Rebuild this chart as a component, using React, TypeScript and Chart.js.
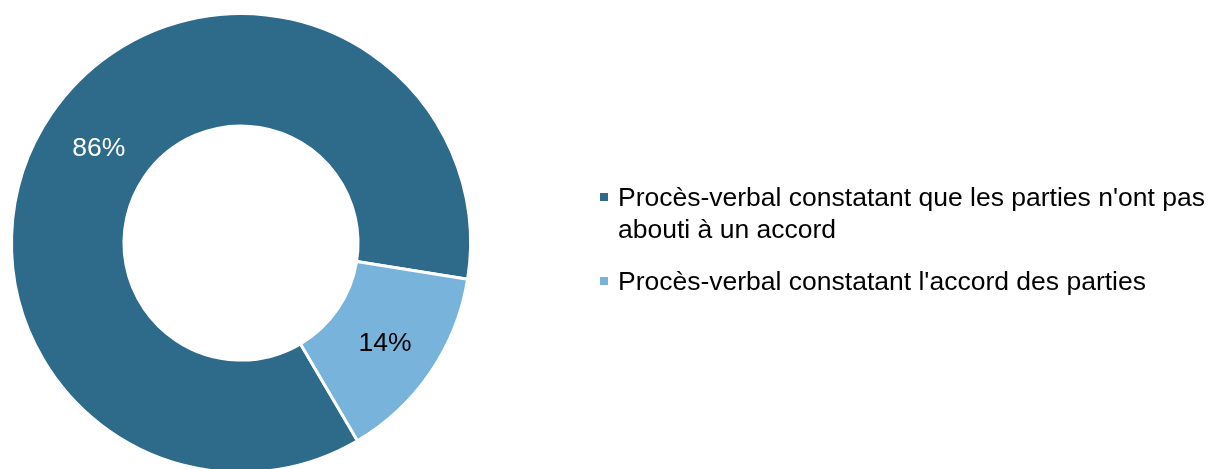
import React, { useEffect, useRef } from "react";
import { Chart, registerables } from "chart.js";

Chart.register(...registerables);

const categories = [
  "Procès-verbal constatant que les parties n'ont pas abouti à un accord",
  "Procès-verbal constatant l'accord des parties",
];
const legendLines = [
  ["Procès-verbal constatant que les parties n'ont pas", "abouti à un accord"],
  ["Procès-verbal constatant l'accord des parties"],
];
const values = [86, 14];
const valueLabels = ["86%", "14%"];
const colors = ["#2E6B8A", "#77B3DA"];
const labelColors = ["#FFFFFF", "#000000"];

const FONT = "'Liberation Sans', Arial, Helvetica, sans-serif";

const labelPlugin = {
  id: "sliceLabels",
  afterDatasetsDraw(chart: any) {
    const ctx = chart.ctx;
    const meta = chart.getDatasetMeta(0);
    ctx.save();
    ctx.font = `26.5px ${FONT}`;
    ctx.textAlign = "center";
    ctx.textBaseline = "middle";
    meta.data.forEach((arc: any, i: number) => {
      const p = arc.tooltipPosition();
      ctx.fillStyle = labelColors[i];
      ctx.fillText(valueLabels[i], p.x + 1, p.y + 3);
    });
    ctx.restore();
  },
};

export default function App() {
  const ref = useRef<HTMLCanvasElement>(null);
  useEffect(() => {
    document.body.style.margin = "0";
    const chart = new Chart(ref.current!, {
      type: "doughnut",
      data: {
        labels: categories,
        datasets: [
          {
            data: values,
            backgroundColor: colors,
            borderColor: "#FFFFFF",
            borderWidth: 3,
          },
        ],
      },
      options: {
        responsive: false,
        animation: false,
        rotation: 149.5,
        cutout: "51%",
        layout: { padding: { left: 10, top: 12, right: 746, bottom: 10 } },
        plugins: {
          legend: { display: false },
          tooltip: { enabled: false },
        },
      },
      plugins: [labelPlugin],
    });
    return () => chart.destroy();
  }, []);

  return (
    <div style={{ position: "relative", width: 1218, height: 469, overflow: "hidden", background: "#fff" }}>
      <canvas ref={ref} width={1218} height={484} style={{ position: "absolute", left: 0, top: 0 }} />
      <div style={{ position: "absolute", left: 600, top: 181, fontFamily: FONT, fontSize: 26.5, color: "#000" }}>
        {legendLines.map((lines, i) => (
          <div key={i} style={{ position: "relative", paddingLeft: 18, marginBottom: 20, lineHeight: "32px" }}>
            <span
              style={{
                position: "absolute",
                left: 0,
                top: 12,
                width: 8,
                height: 8,
                background: colors[i],
              }}
            />
            {lines.map((l, j) => (
              <div key={j} style={{ whiteSpace: "nowrap" }}>{l}</div>
            ))}
          </div>
        ))}
      </div>
    </div>
  );
}
